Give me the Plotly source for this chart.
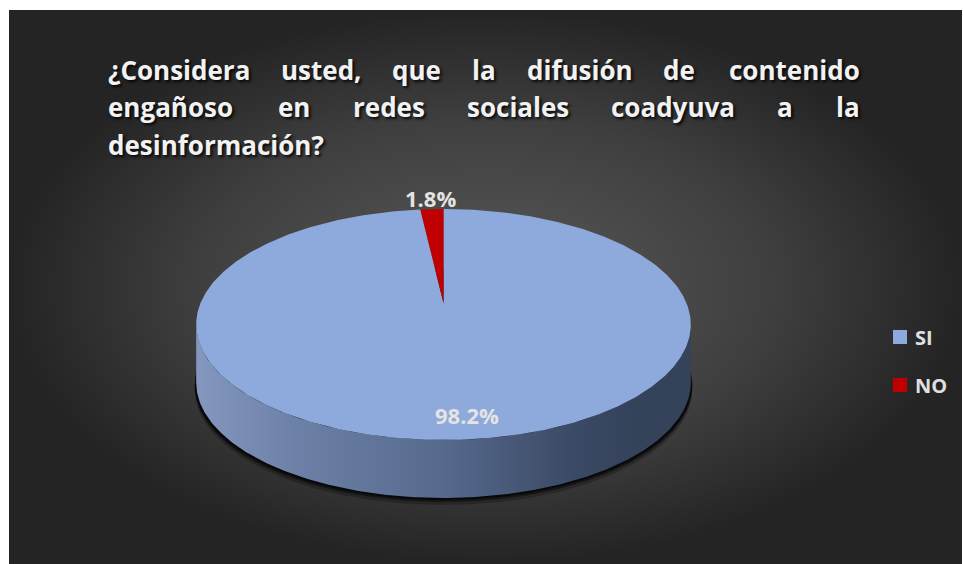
import numpy as np
import plotly.graph_objects as go

# ---- data ----
categories = ["SI", "NO"]
values = [98.2, 1.8]

title_lines = [
    ["¿Considera", "usted,", "que", "la", "difusión", "de", "contenido"],
    ["engañoso", "en", "redes", "sociales", "coadyuva", "a", "la"],
    ["desinformación?"],
]

# ---- styles ----
slice_colors = {"SI": "#8EA9DB", "NO": "#C00000"}
side_scales = {
    "SI": [[0, "#8397bf"], [0.2, "#6d81a8"], [0.5, "#566a8d"],
           [0.75, "#3c4b66"], [0.88, "#34425a"], [1, "#34425a"]],
    "NO": [[0, "#c00000"], [1, "#600000"]],
}
W, H = 963, 564

# projected pie geometry (pixel space, y down)
CX, CY = 443.5, 303.0
A, B, K = 243.0, 111.5, 0.186
DEPTH = 58.0


def project(r, theta, dy=0.0):
    u = r * np.sin(theta)
    v = r * np.cos(theta)
    w = 1 + K * v
    return CX + A * u / w, CY - B * v / w + dy


fig = go.Figure()

# chart background with radial shading
fig.add_trace(go.Scatter(
    x=[9, 962, 962, 9, 9], y=[10, 10, 564, 564, 10],
    mode="lines", line=dict(width=0), fill="toself",
    fillgradient=dict(type="radial",
                      colorscale=[[0, "#595959"], [0.6, "#3f3f3f"], [1, "#242424"]]),
    hoverinfo="skip", showlegend=False,
))

# slice angles (clockwise from 12 o'clock)
total = float(sum(values))
bounds = np.concatenate([[0], np.cumsum(values)]) / total * 2 * np.pi

# soft shadow beneath the disk
full = np.linspace(0, 2 * np.pi, 400)
for off, op in [(7, 0.25), (4, 0.45), (2, 0.6)]:
    sx, sy = project(1.0, full, DEPTH + off)
    sx = CX + (sx - CX) * 1.006
    fig.add_trace(go.Scatter(
        x=sx, y=sy, mode="lines", line=dict(width=0), fill="toself",
        fillcolor=f"rgba(0,0,0,{op})", hoverinfo="skip", showlegend=False,
    ))

# visible front wall spans the silhouette angles
th_r = np.arccos(-K)
th_l = 2 * np.pi - th_r
for cat, a0, a1 in zip(categories, bounds[:-1], bounds[1:]):
    lo, hi = max(a0, th_r), min(a1, th_l)
    if hi <= lo:
        continue
    t = np.linspace(lo, hi, 300)
    xt, yt = project(1.0, t)
    xb, yb = project(1.0, t[::-1], DEPTH)
    fig.add_trace(go.Scatter(
        x=np.concatenate([xt, xb, xt[:1]]), y=np.concatenate([yt, yb, yt[:1]]),
        mode="lines", line=dict(width=0), fill="toself",
        fillgradient=dict(type="horizontal", colorscale=side_scales[cat]),
        hoverinfo="skip", showlegend=False,
    ))

# top face slices
for cat, a0, a1 in zip(categories, bounds[:-1], bounds[1:]):
    n = max(int((a1 - a0) / (2 * np.pi) * 600), 8)
    t = np.linspace(a0, a1, n)
    xa, ya = project(1.0, t)
    xs = np.concatenate([[CX], xa, [CX]])
    ys = np.concatenate([[CY], ya, [CY]])
    fig.add_trace(go.Scatter(
        x=xs, y=ys, mode="lines", line=dict(width=0), fill="toself",
        fillcolor=slice_colors[cat], hoverinfo="skip", showlegend=False,
    ))

# percentage labels
annotations = []
for cat, v, a0, a1 in zip(categories, values, bounds[:-1], bounds[1:]):
    mid = (a0 + a1) / 2
    share = v / total
    r = 0.85 if share > 0.1 else 1.15
    lx, ly = project(r, mid)
    if share > 0.1:
        lx += 10
    annotations.append(dict(
        x=lx, y=ly, text=f"{v:.1f}%", showarrow=False, xanchor="center", yanchor="middle",
        font=dict(family="Open Sans", size=22, color="#e4e4e4", weight="bold"),
    ))

# title, laid out word by word across a justified block
TITLE_L, TITLE_R = 106, 862
word_centers = [
    [None, 321, 416, 484, 580, 679, None],
    [None, 294, 389, 518, 673, 785, None],
    [None],
]
line_y = [70, 107, 145]
title_font = dict(family="Open Sans", size=26, color="#f2f2f2", weight="bold",
                  shadow="2px 2px 3px rgba(0,0,0,0.85)")
for words, centers, yy in zip(title_lines, word_centers, line_y):
    last = len(words) - 1
    for i, (w, c) in enumerate(zip(words, centers)):
        if i == 0:
            xx, anchor = TITLE_L, "left"
        elif i == last:
            xx, anchor = TITLE_R, "right"
        else:
            xx, anchor = c, "center"
        annotations.append(dict(
            x=xx, y=yy, text=w, showarrow=False, xanchor=anchor, yanchor="middle",
            font=title_font,
        ))

# legend
legend_y = [337, 385]
for cat, yy in zip(categories, legend_y):
    fig.add_trace(go.Scatter(
        x=[900], y=[yy], mode="markers",
        marker=dict(symbol="square", size=14, color=slice_colors[cat], line=dict(width=0)),
        hoverinfo="skip", showlegend=False,
    ))
    annotations.append(dict(
        x=913, y=yy, text=cat, showarrow=False, xanchor="left", yanchor="middle",
        font=dict(family="Open Sans", size=20, color="#e0e0e0", weight="bold"),
    ))

fig.update_layout(
    width=W, height=H, margin=dict(l=0, r=0, t=0, b=0),
    paper_bgcolor="white", plot_bgcolor="rgba(0,0,0,0)",
    xaxis=dict(range=[0, W], visible=False, fixedrange=True),
    yaxis=dict(range=[H, 0], visible=False, fixedrange=True),
    annotations=annotations, showlegend=False,
)

fig.write_html("out.html")
